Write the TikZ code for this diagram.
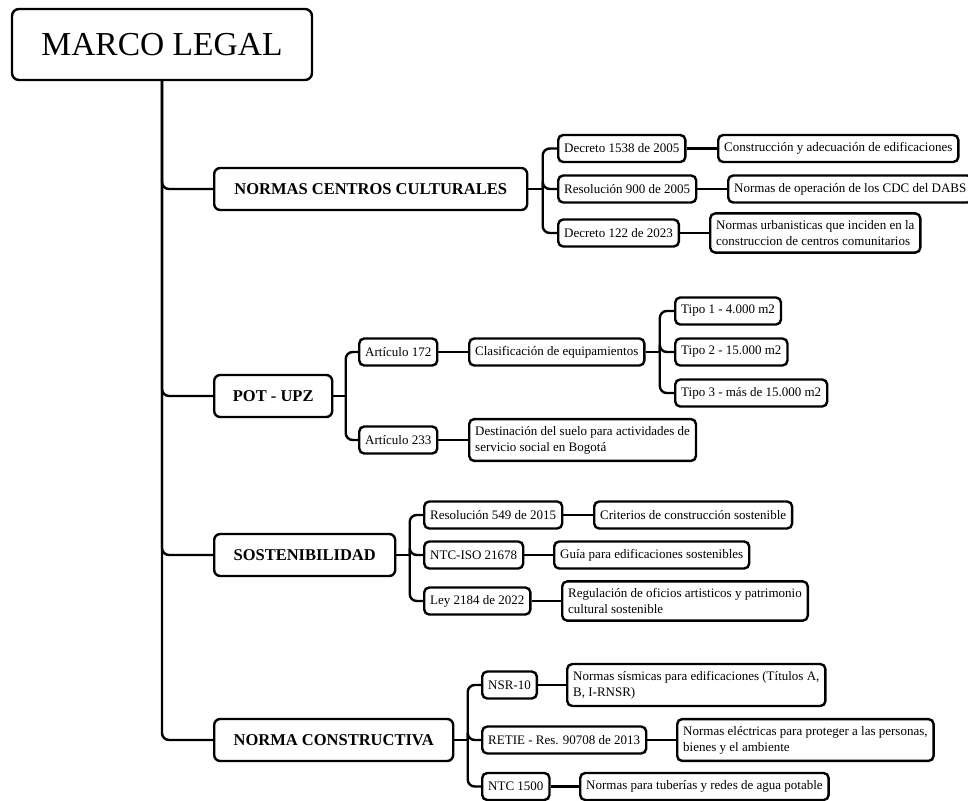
\documentclass[tikz,border=0pt]{standalone}
\usepackage{fontspec}
\setmainfont{Liberation Serif}
\usetikzlibrary{calc}

\begin{document}
\begin{tikzpicture}[x=1pt,y=-1pt,line width=2.4pt,
	caja/.style={draw,rounded corners=5pt,anchor=west,inner xsep=6pt,inner ysep=7pt,minimum height=27pt,align=left,font=\fontsize{13}{16}\selectfont},
	grupo/.style={draw,rounded corners=6pt,anchor=west,minimum height=42pt,font=\fontsize{16.5}{19}\selectfont\bfseries},
	rama/.style={rounded corners=7pt}]
	\useasboundingbox (0,0) rectangle (968,800);
	%raiz
	\node[draw,rounded corners=7pt,minimum width=300,minimum height=71,font=\fontsize{33.5}{40}\selectfont] (raiz) at (162,44.5) {MARCO LEGAL};
	%grupos
	\node[grupo,minimum width=313] (ncc) at (213,189) {NORMAS CENTROS CULTURALES};
	\node[grupo,minimum width=118] (pot) at (213,396) {POT - UPZ};
	\node[grupo,minimum width=181] (sost) at (213,555) {SOSTENIBILIDAD};
	\node[grupo,minimum width=239] (ncons) at (213,740) {NORMA CONSTRUCTIVA};
	%tronco
	\foreach \g in {ncc,pot,sost,ncons}
		\draw[rama] (raiz.south) |- (\g.west);
	%normas centros culturales
	\node[caja] (d1538) at (557,148.5) {Decreto 1538 de 2005};
	\node[caja] (r900) at (557,189) {Resolución 900 de 2005};
	\node[caja] (d122) at (557,233) {Decreto 122 de 2023};
	\node[caja] (constr) at (717,148.5) {Construcción y adecuación de edificaciones};
	\node[caja] (normop) at (727,189) {Normas de operación de los CDC del DABS};
	\node[caja] (normurb) at (709,233) {Normas urbanisticas que inciden en la\\construccion de centros comunitarios};
	%pot - upz
	\node[caja] (a172) at (358,352) {Artículo 172};
	\node[caja] (a233) at (358,440) {Artículo 233};
	\node[caja] (clasif) at (468,352) {Clasificación de equipamientos};
	\node[caja] (destin) at (468,440) {Destinación del suelo para actividades de\\servicio social en Bogotá};
	\node[caja] (tipo1) at (674,311) {Tipo 1 - 4.000 m2};
	\node[caja] (tipo2) at (674,352) {Tipo 2 - 15.000 m2};
	\node[caja] (tipo3) at (674,393) {Tipo 3 - más de 15.000 m2};
	%sostenibilidad
	\node[caja] (r549) at (423,515) {Resolución 549 de 2015};
	\node[caja] (iso) at (423,555) {NTC-ISO 21678};
	\node[caja] (ley) at (423,601) {Ley 2184 de 2022};
	\node[caja] (crit) at (593,515) {Criterios de construcción sostenible};
	\node[caja] (guia) at (553,555) {Guía para edificaciones sostenibles};
	\node[caja] (regul) at (561,601) {Regulación de oficios artisticos y patrimonio\\cultural sostenible};
	%norma constructiva
	\node[caja] (nsr) at (481,685) {NSR-10};
	\node[caja] (retie) at (481,740) {RETIE - Res. 90708 de 2013};
	\node[caja] (ntc) at (481,786.5) {NTC 1500};
	\node[caja] (sism) at (566,685) {Normas sísmicas para edificaciones (Títulos A,\\B, I-RNSR)};
	\node[caja] (elec) at (676,740) {Normas eléctricas para proteger a las personas,\\bienes y el ambiente};
	\node[caja] (tuber) at (579,786.5) {Normas para tuberías y redes de agua potable};
	%ramas
	\coordinate (bncc) at ($(ncc.east)!.5!(r900.west)$);
	\coordinate (bpot) at ($(pot.east)!.5!(a172.west |- pot.east)$);
	\coordinate (bclas) at ($(clasif.east)!.5!(tipo2.west)$);
	\coordinate (bsost) at ($(sost.east)!.5!(iso.west)$);
	\coordinate (bncons) at ($(ncons.east)!.5!(retie.west)$);
	\foreach \p/\b/\hs in {ncc/bncc/{d1538,r900,d122},pot/bpot/{a172,a233},clasif/bclas/{tipo1,tipo2,tipo3},sost/bsost/{r549,iso,ley},ncons/bncons/{nsr,retie,ntc}}{
		\draw (\p.east) -- (\b);
		\foreach \h in \hs
			\draw[rama] (\b) |- (\h.west);
	}
	\foreach \a/\b in {d1538/constr,r900/normop,d122/normurb,a172/clasif,a233/destin,r549/crit,iso/guia,ley/regul,nsr/sism,retie/elec,ntc/tuber}
		\draw (\a.east) -- (\b.west);
\end{tikzpicture}
\end{document}
